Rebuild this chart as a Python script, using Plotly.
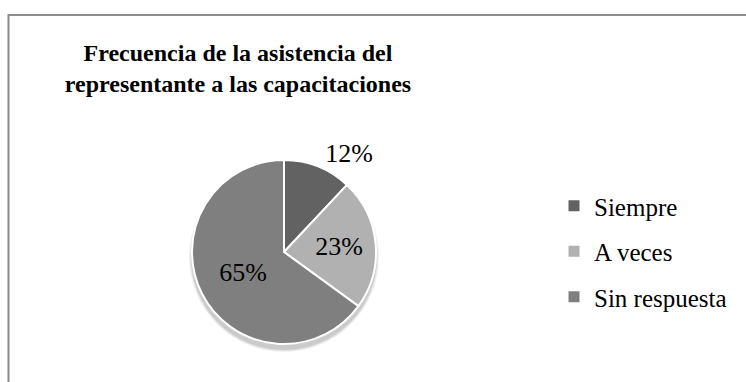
import plotly.graph_objects as go

categories = ["Siempre", "A veces", "Sin respuesta"]
values = [12, 23, 65]
colors = ["#626262", "#b1b1b1", "#7f7f7f"]
text_positions = ["outside", "inside", "inside"]
title_text = "Frecuencia de la asistencia del<br>representante a las capacitaciones"

W, H = 746, 382
cx, cy, r = 284, 252, 92  # pie centre / radius in pixels
SERIF = "Liberation Serif"

fig = go.Figure()

fig.add_trace(go.Pie(
    labels=categories,
    values=values,
    marker=dict(colors=colors, line=dict(color="white", width=2)),
    sort=False,
    direction="clockwise",
    rotation=0,
    textinfo="percent",
    texttemplate="%{percent:.0%}",
    textposition=text_positions,
    insidetextorientation="horizontal",
    textfont=dict(family=SERIF, size=26, color="black"),
    domain=dict(x=[(cx - r) / W, (cx + r) / W], y=[(H - cy - r) / H, (H - cy + r) / H]),
    showlegend=False,
    hoverinfo="label+percent",
))

# legend entries (one per category, so the gap between them can be set)
for c, col in zip(categories, colors):
    fig.add_trace(go.Scatter(
        x=[None], y=[None], mode="markers", name=c, legendgroup=c,
        marker=dict(symbol="square", size=11, color=col),
    ))

shapes = []
# soft shadow under the pie
for grow, op in [(3, 0.05), (2, 0.07), (1, 0.09)]:
    rr = r + grow
    shapes.append(dict(
        type="circle", xref="paper", yref="paper", layer="below",
        x0=(cx - rr) / W, x1=(cx + rr) / W,
        y0=(H - cy - 5 - rr) / H, y1=(H - cy - 5 + rr) / H,
        fillcolor=f"rgba(0,0,0,{op})", line=dict(width=0),
    ))
# chart frame
shapes.append(dict(
    type="rect", xref="paper", yref="paper",
    x0=8.5 / W, x1=1.05, y0=-0.05, y1=(H - 15) / H,
    line=dict(color="#8c8c8c", width=2), fillcolor="rgba(0,0,0,0)",
))

fig.update_layout(
    width=W, height=H,
    margin=dict(l=0, r=0, t=0, b=0),
    font=dict(family=SERIF, color="black"),
    paper_bgcolor="white", plot_bgcolor="white",
    xaxis=dict(visible=False), yaxis=dict(visible=False),
    title=dict(
        text=title_text, x=238 / W, xanchor="center", xref="container",
        y=1 - 61 / H, yanchor="top", yref="container",
        font=dict(family=SERIF, size=24, color="black", weight="bold"),
    ),
    legend=dict(
        x=554 / W, xanchor="left", y=1 - 183 / H, yanchor="top",
        font=dict(family=SERIF, size=25, color="black"),
        tracegroupgap=10, itemwidth=30, bgcolor="rgba(0,0,0,0)",
    ),
    shapes=shapes,
)

fig.write_html("out.html")
